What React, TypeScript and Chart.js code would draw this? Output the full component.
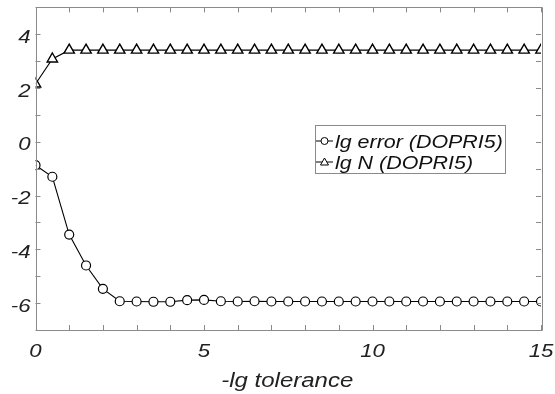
import React, { useEffect, useRef } from "react";
import { Chart, registerables } from "chart.js";

Chart.register(...registerables);

const X_VALUES = [0, 0.5, 1, 1.5, 2, 2.5, 3, 3.5, 4, 4.5, 5, 5.5, 6, 6.5, 7, 7.5, 8, 8.5, 9, 9.5, 10, 10.5, 11, 11.5, 12, 12.5, 13, 13.5, 14, 14.5, 15];
const LG_ERROR = [-0.87, -1.3, -3.45, -4.6, -5.47, -5.93, -5.94, -5.95, -5.95, -5.89, -5.88, -5.93, -5.94, -5.93, -5.94, -5.94, -5.94, -5.94, -5.94, -5.94, -5.94, -5.94, -5.94, -5.94, -5.94, -5.94, -5.94, -5.94, -5.94, -5.94, -5.94];
const LG_N = [2.15, 3.08, 3.41, 3.41, 3.41, 3.41, 3.41, 3.41, 3.41, 3.41, 3.41, 3.41, 3.41, 3.41, 3.41, 3.41, 3.41, 3.41, 3.41, 3.41, 3.41, 3.41, 3.41, 3.41, 3.41, 3.41, 3.41, 3.41, 3.41, 3.41, 3.41];
const X_TICKS = [0, 5, 10, 15];
const Y_TICKS = [-6, -4, -2, 0, 2, 4];
const X_MINOR = [0, 1, 2, 3, 4, 5, 6, 7, 8, 9, 10, 11, 12, 13, 14, 15];
const Y_MINOR = [-7, -6, -5, -4, -3, -2, -1, 0, 1, 2, 3, 4, 5];
const SERIES_LABELS = ["lg error (DOPRI5)", "lg N (DOPRI5)"];
const X_TITLE = "-lg tolerance";

const FONT = "'Liberation Sans', Arial, sans-serif";

function stretchedText(ctx: any, text: string, x: number, y: number, align: string, size: number, stretch: number, color: string) {
  ctx.save();
  ctx.translate(x, y);
  ctx.scale(stretch, 1);
  ctx.font = `italic ${size}px ${FONT}`;
  ctx.fillStyle = color;
  ctx.textAlign = align;
  ctx.textBaseline = "alphabetic";
  ctx.fillText(text, 0, 0);
  ctx.restore();
}

const framePlugin = {
  id: "frame",
  afterDatasetsDraw(chart: any) {
    const { ctx, chartArea: a, scales } = chart;
    const xs = scales.x;
    const ys = scales.y;
    ctx.save();
    ctx.strokeStyle = "#8a8a8a";
    ctx.lineWidth = 1;
    ctx.beginPath();
    ctx.rect(Math.round(a.left) + 0.5, Math.round(a.top) + 0.5, Math.round(a.right - a.left), Math.round(a.bottom - a.top));
    ctx.stroke();
    ctx.beginPath();
    const tl = 5;
    X_MINOR.forEach((v) => {
      const px = Math.round(xs.getPixelForValue(v)) + 0.5;
      ctx.moveTo(px, a.bottom);
      ctx.lineTo(px, a.bottom - tl);
      ctx.moveTo(px, a.top);
      ctx.lineTo(px, a.top + tl);
    });
    Y_MINOR.forEach((v) => {
      const py = Math.round(ys.getPixelForValue(v)) + 0.5;
      ctx.moveTo(a.left, py);
      ctx.lineTo(a.left + tl, py);
      ctx.moveTo(a.right, py);
      ctx.lineTo(a.right - tl, py);
    });
    ctx.stroke();

    const tc = "#222";
    // tick labels
    Y_TICKS.forEach((v) => {
      const py = ys.getPixelForValue(v);
      stretchedText(ctx, String(v), a.left - 5, py + 8.5, "right", 18.5, 1.2, tc);
    });
    X_TICKS.forEach((v) => {
      const px = xs.getPixelForValue(v);
      stretchedText(ctx, String(v), px, a.bottom + 27, "center", 18.5, 1.2, tc);
    });

    // x title
    stretchedText(ctx, X_TITLE, (a.left + a.right) / 2 - 1, 387, "center", 20, 1.2, tc);

    // legend
    const bx = 315, by = 125, bw = 190, bh = 48;
    ctx.fillStyle = "#fff";
    ctx.fillRect(bx, by, bw, bh);
    ctx.strokeStyle = "#8a8a8a";
    ctx.lineWidth = 1;
    ctx.strokeRect(bx + 0.5, by + 0.5, bw, bh);
    const rows = [141, 162];
    rows.forEach((ry, i) => {
      ctx.strokeStyle = "#000";
      ctx.lineWidth = 1;
      ctx.beginPath();
      ctx.moveTo(316, ry);
      ctx.lineTo(333, ry);
      ctx.stroke();
      ctx.fillStyle = "#fff";
      ctx.beginPath();
      if (i === 0) {
        ctx.arc(324.5, ry, 3.5, 0, Math.PI * 2);
      } else {
        ctx.moveTo(324.5, ry - 4);
        ctx.lineTo(328.5, ry + 3);
        ctx.lineTo(320.5, ry + 3);
        ctx.closePath();
      }
      ctx.fill();
      ctx.stroke();
      stretchedText(ctx, SERIES_LABELS[i], 335, ry + 7, "left", 18, 1.19, "#111");
    });
    ctx.restore();
  },
};

export default function App() {
  const ref = useRef<HTMLCanvasElement>(null);
  useEffect(() => {
    document.body.style.margin = "0";
    const canvas = ref.current!;
    const chart = new Chart(canvas, {
      type: "line",
      data: {
        datasets: [
          {
            label: SERIES_LABELS[0],
            data: X_VALUES.map((x, i) => ({ x, y: LG_ERROR[i] })),
            borderColor: "#000",
            borderWidth: 1.1,
            pointStyle: "circle",
            pointRadius: 4.5,
            pointBorderWidth: 1.2,
            pointBackgroundColor: "#fff",
            pointBorderColor: "#000",
            tension: 0,
          },
          {
            label: SERIES_LABELS[1],
            data: X_VALUES.map((x, i) => ({ x, y: LG_N[i] })),
            borderColor: "#000",
            borderWidth: 1.1,
            pointStyle: "triangle",
            pointRadius: 6,
            pointBorderWidth: 1.4,
            pointBackgroundColor: "#fff",
            pointBorderColor: "#000",
            tension: 0,
          },
        ],
      },
      options: {
        responsive: false,
        animation: false,
        layout: { padding: { top: 7, right: 14, left: 0, bottom: 0 } },
        plugins: { legend: { display: false }, tooltip: { enabled: false } },
        scales: {
          x: {
            type: "linear",
            min: 0,
            max: 15,
            grid: { display: false },
            border: { display: false },
            afterBuildTicks: (s: any) => {
              s.ticks = X_TICKS.map((v) => ({ value: v }));
            },
            afterFit: (s: any) => {
              s.height = 64;
            },
            ticks: { display: false },
          },
          y: {
            type: "linear",
            min: -7,
            max: 5,
            grid: { display: false },
            border: { display: false },
            afterBuildTicks: (s: any) => {
              s.ticks = Y_TICKS.map((v) => ({ value: v }));
            },
            afterFit: (s: any) => {
              s.width = 35.5;
            },
            ticks: { display: false },
          },
        },
      },
      plugins: [framePlugin],
    });
    return () => chart.destroy();
  }, []);
  return <canvas ref={ref} width={555} height={394} style={{ display: "block" }} />;
}
